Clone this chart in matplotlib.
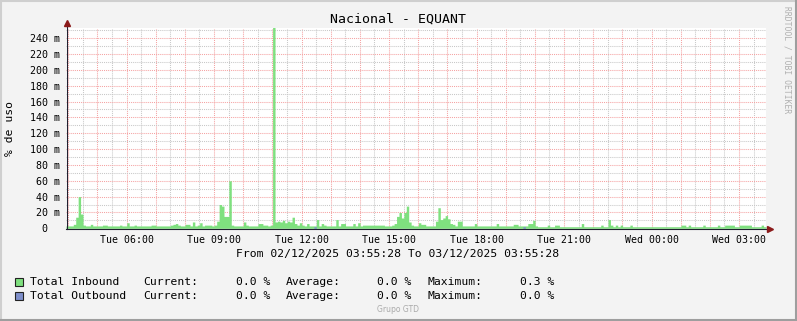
import matplotlib
matplotlib.use("Agg")
import matplotlib.pyplot as plt
import numpy as np
from matplotlib.lines import Line2D
from matplotlib.patches import Rectangle

# ---- datos (milésimas de %, una muestra cada 5 min desde 03:55:28) ----
inbound = [
    3, 3, 3, 5, 14, 40, 18, 4, 3, 3, 5, 3,
    3, 3, 3, 4, 4, 3, 3, 3, 3, 3, 4, 3,
    3, 7, 3, 3, 4, 3, 3, 3, 3, 3, 3, 4,
    4, 3, 3, 3, 3, 3, 3, 4, 5, 6, 4, 3,
    3, 5, 5, 3, 8, 3, 4, 7, 3, 4, 4, 4,
    3, 4, 9, 30, 28, 15, 15, 60, 4, 3, 3, 3,
    3, 8, 4, 3, 3, 3, 3, 6, 6, 4, 4, 3,
    4, 300, 8, 9, 8, 10, 7, 9, 8, 14, 6, 4,
    7, 4, 3, 6, 3, 3, 3, 11, 3, 6, 4, 3,
    3, 3, 3, 11, 3, 6, 6, 3, 3, 3, 6, 3,
    7, 3, 4, 4, 4, 4, 4, 4, 4, 4, 4, 3,
    3, 3, 4, 6, 15, 20, 13, 20, 28, 8, 4, 3,
    3, 7, 5, 5, 3, 3, 3, 3, 9, 26, 11, 13,
    16, 12, 6, 5, 3, 9, 9, 3, 3, 3, 3, 3,
    6, 3, 3, 3, 3, 3, 3, 3, 3, 6, 3, 3,
    3, 3, 3, 3, 5, 5, 3, 3, 3, 3, 6, 6,
    10, 3, 2, 2, 2, 2, 4, 2, 2, 4, 4, 2,
    2, 2, 2, 2, 2, 2, 2, 2, 6, 2, 2, 2,
    2, 2, 2, 2, 4, 2, 2, 11, 4, 2, 4, 2,
    4, 2, 2, 2, 4, 2, 2, 2, 2, 2, 2, 2,
    2, 2, 2, 2, 2, 2, 2, 2, 2, 2, 2, 2,
    2, 4, 4, 2, 4, 2, 2, 2, 2, 2, 4, 2,
    2, 2, 2, 2, 4, 2, 2, 4, 4, 4, 4, 2,
    2, 4, 4, 4, 4, 4, 2, 2, 2, 2, 4, 2,
]
outbound = [0] * 288
outbound[102] = 2
outbound[188] = 2

start_sec = 3 * 3600 + 55 * 60 + 28
label_hours = [6, 9, 12, 15, 18, 21, 24, 27]
xtick_labels = ["Tue 06:00", "Tue 09:00", "Tue 12:00", "Tue 15:00",
                "Tue 18:00", "Tue 21:00", "Wed 00:00", "Wed 03:00"]
ytick_values = [0, 20, 40, 60, 80, 100, 120, 140, 160, 180, 200, 220, 240]
ytick_labels = ["0  "] + ["%d m" % v for v in ytick_values[1:]]

title = "Nacional - EQUANT"
ylabel = "% de uso"
range_text = "From 02/12/2025 03:55:28 To 03/12/2025 03:55:28"
legend_names = ["Total Inbound", "Total Outbound"]
legend_colors = ["#7FE07F", "#7F8FCB"]
cur_vals = ["0.0 %", "0.0 %"]
avg_vals = ["0.0 %", "0.0 %"]
max_vals = ["0.3 %", "0.0 %"]

MONO = "DejaVu Sans Mono"
W, H = 797, 321


def fx(px):
    return px / W


def fy(py):
    return 1 - py / H


fig = plt.figure(figsize=(W / 100, H / 100), dpi=100, facecolor="#F3F3F3")
ax = fig.add_axes([fx(66), fy(228.3), 700 / W, (228.3 - 27.5) / H])
ax.set_facecolor("white")

t = np.arange(len(inbound) + 1) * 5 / 60.0
yin = np.append(inbound, inbound[-1])
yout = np.append(outbound, outbound[-1])
ax.fill_between(t, 0, yin, step="post", color=legend_colors[0], lw=0, zorder=2)
ax.fill_between(t, 0, yout, step="post", color=legend_colors[1], lw=0, zorder=3)

ax.set_xlim(0, 24)
ax.set_ylim(0, 253.5)

hour_pos = [(h * 3600 - start_sec) / 3600 for h in range(4, 28)]
half_pos = [(h * 3600 + 1800 - start_sec) / 3600 for h in range(3, 28)]
half_pos = [p for p in half_pos if 0 < p < 24]
lab_map = dict(zip(label_hours, xtick_labels))
ax.set_xticks(hour_pos)
ax.set_xticklabels([lab_map.get(h, "") for h in range(4, 28)])
ax.set_xticks(half_pos, minor=True)
ax.set_yticks(ytick_values)
ax.set_yticklabels(ytick_labels)
ax.set_yticks(np.arange(10, 260, 20), minor=True)

ax.grid(which="minor", color="#C8C8C8", ls=(0, (1, 1)), lw=0.75, zorder=1)
ax.grid(which="major", color="#F5A3A3", ls=(0, (1, 1)), lw=0.75, zorder=1)
ax.set_axisbelow(True)

ax.tick_params(which="both", length=0)
ax.tick_params(axis="x", pad=4.5, labelsize=7.1)
ax.tick_params(axis="y", pad=4.5, labelsize=7.2)
for lab in ax.get_xticklabels() + ax.get_yticklabels():
    lab.set_family(MONO)

for s in ax.spines.values():
    s.set_visible(False)

# ejes con flechas
axc = "#202030"
fig.add_artist(Line2D([fx(66), fx(768)], [fy(228.6)] * 2, color=axc, lw=0.8, transform=fig.transFigure))
fig.add_artist(Line2D([fx(66.5)] * 2, [fy(228.6), fy(25)], color=axc, lw=0.8, transform=fig.transFigure))
fig.add_artist(Line2D([fx(770)], [fy(228.6)], marker=">", ms=4.5, color="#8B1A1A", lw=0, transform=fig.transFigure))
fig.add_artist(Line2D([fx(66.5)], [fy(23)], marker="^", ms=4.5, color="#8B1A1A", lw=0, transform=fig.transFigure))

fig.text(fx(398), fy(19), title, ha="center", va="center", fontsize=9.5, family=MONO)
fig.text(fx(10), fy(128), ylabel, ha="center", va="center", rotation=90, fontsize=8.2, family=MONO)
fig.text(fx(398), fy(254), range_text, ha="center", va="center", fontsize=8.2, family=MONO)
fig.text(fx(787), fy(60), "RRDTOOL / TOBI OETIKER", ha="center", va="center", rotation=270,
         fontsize=5.8, family=MONO, color="#B0B0B0")
fig.text(fx(398), fy(310), "Grupo GTD", ha="center", va="center", fontsize=5.5, color="#AAAAAA")

for i, row_y in enumerate([282, 296]):
    fig.add_artist(Rectangle((fx(15), fy(row_y + 4)), 8 / W, 8 / H, facecolor=legend_colors[i],
                             edgecolor="#222222", lw=0.8, transform=fig.transFigure))
    kw = dict(va="center", fontsize=8.2, family=MONO)
    fig.text(fx(30), fy(row_y), legend_names[i], ha="left", **kw)
    fig.text(fx(143), fy(row_y), "Current:", ha="left", **kw)
    fig.text(fx(270), fy(row_y), cur_vals[i], ha="right", **kw)
    fig.text(fx(286), fy(row_y), "Average:", ha="left", **kw)
    fig.text(fx(411), fy(row_y), avg_vals[i], ha="right", **kw)
    fig.text(fx(428), fy(row_y), "Maximum:", ha="left", **kw)
    fig.text(fx(554), fy(row_y), max_vals[i], ha="right", **kw)

# marco exterior
fig.add_artist(Line2D([0, 1], [fy(1), fy(1)], color="#CFCFCF", lw=1.5, transform=fig.transFigure))
fig.add_artist(Line2D([fx(1), fx(1)], [0, 1], color="#CFCFCF", lw=1.5, transform=fig.transFigure))
fig.add_artist(Line2D([0, 1], [fy(320), fy(320)], color="#9E9E9E", lw=1.5, transform=fig.transFigure))
fig.add_artist(Line2D([fx(796), fx(796)], [0, 1], color="#9E9E9E", lw=1.5, transform=fig.transFigure))

fig.savefig("out.png", dpi=100, facecolor=fig.get_facecolor())
